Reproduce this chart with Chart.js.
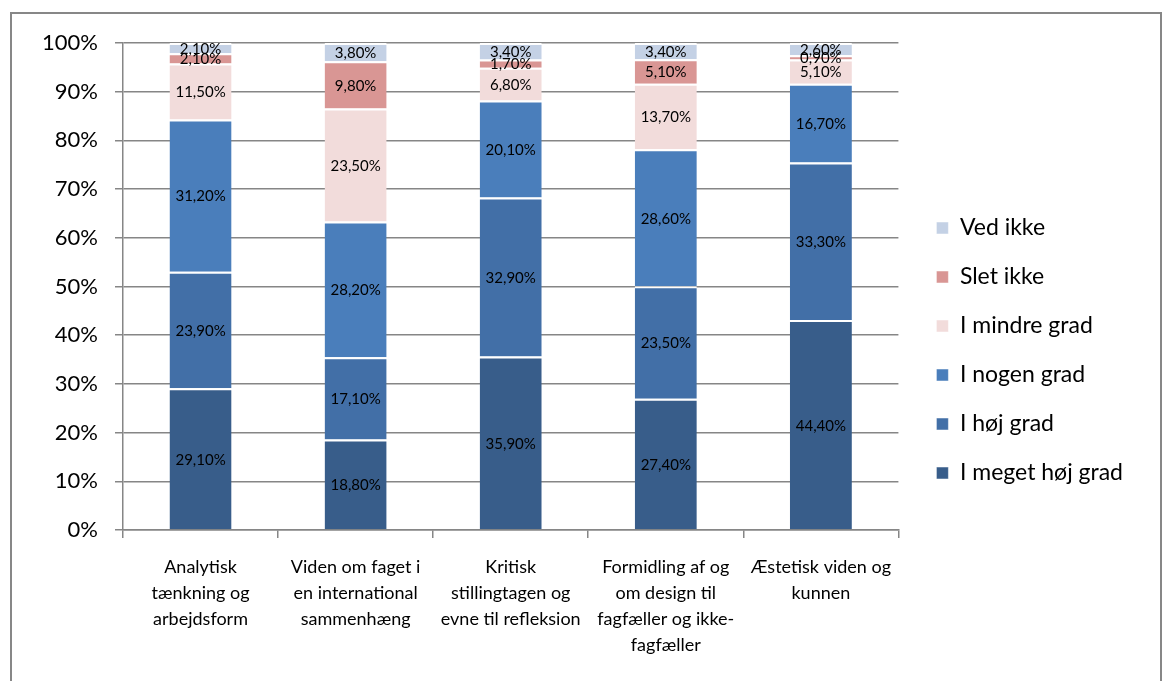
<!DOCTYPE html>
<html lang="da">
<head>
    <meta charset="utf-8"/>
    <title>Kompetencer</title>
    <script src="https://cdn.jsdelivr.net/npm/chart.js"></script>
    <style>
        body { margin: 0; background: #fff; }
        #wrap { position: relative; width: 1164px; height: 681px; }
        #frame {
            position: absolute; left: 10px; top: 12px; width: 1148px; height: 700px;
            border: 2px solid #878787; pointer-events: none;
        }
    </style>
</head>
<body>
<div id="wrap">
    <canvas id="chart" width="1164" height="681"></canvas>
    <div id="frame"></div>
</div>
<script>
    // categories (x axis, multi-line)
    const categories = [
        ['Analytisk', 'tænkning og', 'arbejdsform'],
        ['Viden om faget i', 'en international', 'sammenhæng'],
        ['Kritisk', 'stillingtagen og', 'evne til refleksion'],
        ['Formidling af og', 'om design til', 'fagfæller og ikke-', 'fagfæller'],
        ['Æstetisk viden og', 'kunnen']
    ];

    // series, bottom to top (percent as printed in the labels)
    const meget = [29.1, 18.8, 35.9, 27.4, 44.4];
    const hoj = [23.9, 17.1, 32.9, 23.5, 33.3];
    const nogen = [31.2, 28.2, 20.1, 28.6, 16.7];
    const mindre = [11.5, 23.5, 6.8, 13.7, 5.1];
    const slet = [2.1, 9.8, 1.7, 5.1, 0.9];
    const vedIkke = [2.1, 3.8, 3.4, 3.4, 2.6];

    const yTicks = [0, 10, 20, 30, 40, 50, 60, 70, 80, 90, 100];

    const FONT = 'Lato, "Open Sans", sans-serif';

    // 100% stacked: each column is scaled to its own total
    const allSeries = [meget, hoj, nogen, mindre, slet, vedIkke];
    const totals = categories.map((c, j) => allSeries.reduce((s, arr) => s + arr[j], 0));

    function ds(label, data, color) {
        return {
            label: label,
            data: data.map((v, j) => v / totals[j] * 100),
            raw: data,
            backgroundColor: color,
            borderColor: '#ffffff',
            borderWidth: {top: 2, bottom: 0, left: 0, right: 0},
            borderSkipped: false,
            barPercentage: 0.4,
            categoryPercentage: 1.0
        };
    }

    // value labels in the middle of each segment
    const segLabels = {
        id: 'segLabels',
        afterDatasetsDraw(chart) {
            const ctx = chart.ctx;
            ctx.save();
            ctx.font = '15px ' + FONT;
            ctx.fillStyle = '#000';
            ctx.textAlign = 'center';
            ctx.textBaseline = 'middle';
            chart.data.datasets.forEach((d, i) => {
                const meta = chart.getDatasetMeta(i);
                meta.data.forEach((bar, j) => {
                    const txt = d.raw[j].toFixed(2).replace('.', ',') + '%';
                    ctx.fillText(txt, bar.x, (bar.y + bar.base) / 2 + 1);
                });
            });
            ctx.restore();
        }
    };

    // nudge the legend a bit away from the plot
    const legendShift = {
        id: 'legendShift',
        afterLayout(chart) {
            const lg = chart.legend;
            const dx = chart.chartArea.right + 38 - (lg.left + lg.options.labels.padding);
            lg.left += dx;
            lg.right += dx;
        }
    };

    new Chart(document.getElementById('chart'), {
        type: 'bar',
        data: {
            labels: categories,
            datasets: [
                ds('I meget høj grad', meget, '#385D8A'),
                ds('I høj grad', hoj, '#426FA7'),
                ds('I nogen grad', nogen, '#4A7EBB'),
                ds('I mindre grad', mindre, '#F2DCDB'),
                ds('Slet ikke', slet, '#D99694'),
                ds('Ved ikke', vedIkke, '#C4D1E5')
            ]
        },
        options: {
            responsive: false,
            animation: false,
            layout: { padding: { top: 43, right: 43, bottom: 23, left: 0 } },
            plugins: {
                tooltip: { enabled: false },
                legend: {
                    position: 'right',
                    reverse: true,
                    labels: {
                        boxWidth: 12,
                        boxHeight: 12,
                        padding: 26,
                        color: '#000',
                        font: { size: 23, family: FONT }
                    }
                }
            },
            scales: {
                x: {
                    stacked: true,
                    offset: true,
                    grid: {
                        offset: true,
                        drawOnChartArea: false,
                        drawTicks: true,
                        tickLength: 8,
                        color: '#868686',
                        lineWidth: 1.5
                    },
                    border: { color: '#868686', width: 1.5 },
                    ticks: {
                        color: '#000',
                        padding: 16,
                        maxRotation: 0,
                        autoSkip: false,
                        font: { size: 18, family: FONT, lineHeight: 1.44 }
                    },
                    afterFit(scale) { scale.height = 128; }
                },
                y: {
                    stacked: true,
                    min: 0,
                    max: 100,
                    afterBuildTicks(scale) {
                        scale.ticks = yTicks.map(v => ({ value: v }));
                    },
                    grid: {
                        color: '#868686',
                        lineWidth: 1.5,
                        tickLength: 8
                    },
                    border: { color: '#868686', width: 1.5 },
                    ticks: {
                        color: '#000',
                        padding: 17,
                        font: { size: 22, family: FONT },
                        callback: v => v + '%'
                    },
                    afterFit(scale) { scale.width = 123; }
                }
            }
        },
        plugins: [segLabels, legendShift]
    });
</script>
</body>
</html>
